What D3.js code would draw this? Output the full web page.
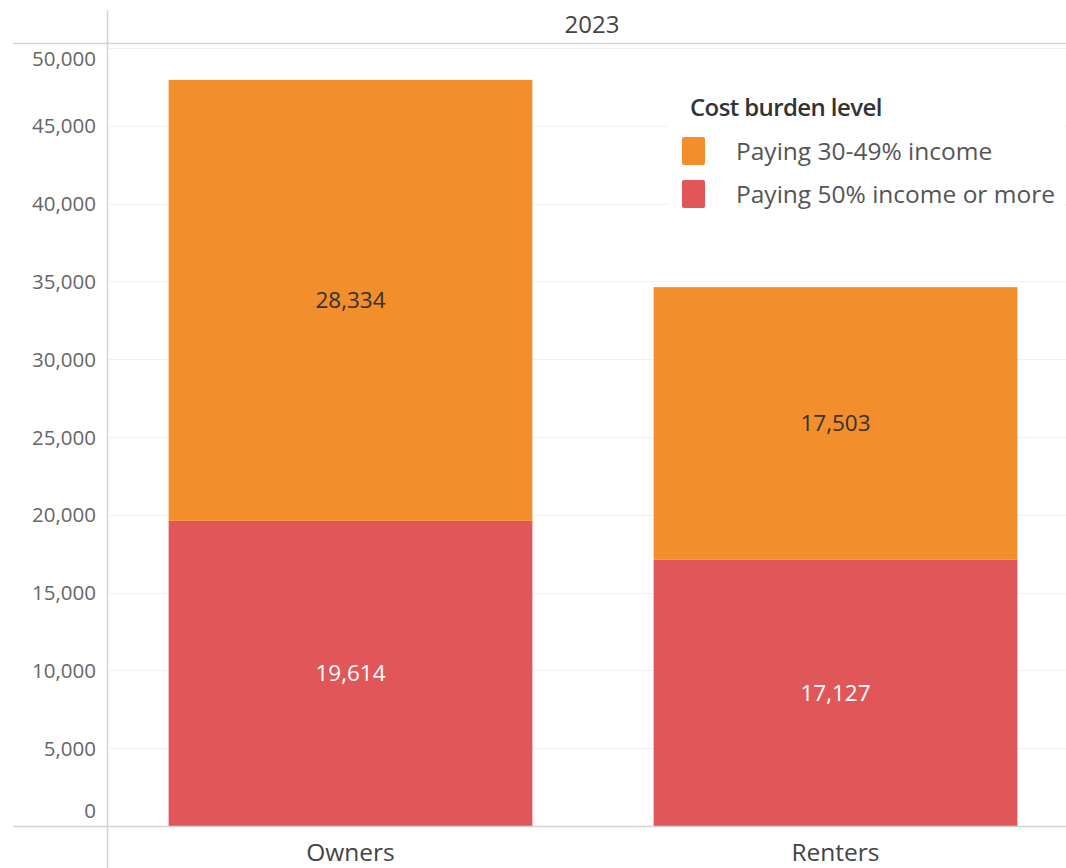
<!DOCTYPE html>
<html><head><meta charset="utf-8">
<script src="https://cdn.jsdelivr.net/npm/d3@7"></script>
<style>body{margin:0;background:#fff;}svg{display:block;font-family:"Open Sans",Lato,sans-serif;}</style>
</head><body><svg id="c" width="1066" height="868"></svg>
<script>
const categories = ["Owners", "Renters"];
const seriesNames = ["Paying 50% income or more", "Paying 30-49% income"];
const paying50 = [19614, 17127];
const paying30 = [28334, 17503];
const yTicks = [0, 5000, 10000, 15000, 20000, 25000, 30000, 35000, 40000, 45000, 50000];
const columnHeader = "2023";
const legendTitle = "Cost burden level";

const colors = {"Paying 30-49% income": "#f28e2b", "Paying 50% income or more": "#e15759"};
const svg = d3.select("#c");
const W = 1066, H = 868;
const padLeft = 108, padTop = 44, baseY = 826;
const y = d3.scaleLinear().domain([0, 50000]).range([baseY, 48]);
const x = d3.scaleBand().domain(categories).range([108, 1078]).paddingInner(0.25).paddingOuter(0.125);

// gridlines
svg.append("g").selectAll("line").data(yTicks.filter(d => d > 0)).join("line")
  .attr("x1", padLeft).attr("x2", W).attr("y1", d => Math.round(y(d)) + 0.5).attr("y2", d => Math.round(y(d)) + 0.5)
  .attr("stroke", "#f0f0f0").attr("stroke-width", 1);

// y axis labels
const yFs = 20.5;
const yAxis = d3.axisLeft(y).tickValues(yTicks).tickFormat(d3.format(",")).tickSize(0).tickPadding(0);
const ga = svg.append("g").attr("transform", `translate(${padLeft - 12},0)`).call(yAxis);
ga.select(".domain").remove();
ga.selectAll("text").attr("font-size", yFs).attr("fill", "#666").attr("font-family", "'Open Sans',sans-serif")
  .attr("dy", d => d === 50000 ? (10 + 0.35 * yFs) + "px" : d === 0 ? (-16 + 0.35 * yFs) + "px" : "0.35em");

// stacked data
const rows = categories.map((c, i) => ({cat: c, "Paying 50% income or more": paying50[i], "Paying 30-49% income": paying30[i]}));
const stack = d3.stack().keys(seriesNames)(rows);
const gs = svg.append("g").selectAll("g").data(stack).join("g").attr("fill", d => colors[d.key]);
gs.selectAll("rect").data(d => d).join("rect")
  .attr("x", d => x(d.data.cat)).attr("width", x.bandwidth())
  .attr("y", d => y(d[1])).attr("height", d => y(d[0]) - y(d[1]));

// value labels
stack.forEach(s => {
  svg.append("g").selectAll("text").data(s).join("text")
    .attr("x", d => x(d.data.cat) + x.bandwidth() / 2)
    .attr("y", d => (y(d[0]) + y(d[1])) / 2)
    .attr("dy", "0.35em").attr("text-anchor", "middle").attr("font-size", 22.5)
    .attr("fill", s.key === "Paying 50% income or more" ? "#ffffff" : "#333333")
    .text(d => d3.format(",")(d[1] - d[0]));
});

// axes lines
svg.append("line").attr("x1", 13).attr("x2", W).attr("y1", padTop - 0.5).attr("y2", padTop - 0.5).attr("stroke", "#d4d4d4").attr("stroke-width", 1.5);
svg.append("line").attr("x1", 13).attr("x2", W).attr("y1", baseY + 0.5).attr("y2", baseY + 0.5).attr("stroke", "#d4d4d4").attr("stroke-width", 1.5);
svg.append("line").attr("x1", padLeft - 0.5).attr("x2", padLeft - 0.5).attr("y1", 10).attr("y2", H).attr("stroke", "#d4d4d4").attr("stroke-width", 1.5);

// header
svg.append("text").attr("x", 592).attr("y", 25).attr("dy", "0.35em").attr("text-anchor", "middle")
  .attr("font-size", 24).attr("fill", "#444").text(columnHeader);

// x axis labels
const xAxis = d3.axisBottom(x).tickSize(0).tickPadding(0);
const gx = svg.append("g").attr("transform", `translate(0,${baseY})`).call(xAxis);
gx.select(".domain").remove();
gx.selectAll("text").attr("font-size", 24.5).attr("fill", "#444").attr("font-family", "'Open Sans',sans-serif").attr("dy", "0").attr("y", 35);

// legend
const lg = svg.append("g");
lg.append("rect").attr("x", 668).attr("y", 88).attr("width", 395).attr("height", 128).attr("fill", "#fff");
lg.append("text").attr("x", 690).attr("y", 108).attr("dy", "0.35em").attr("font-size", 24).attr("font-weight", 600)
  .attr("fill", "#333").attr("font-family", "'Open Sans',sans-serif").attr("letter-spacing", "-0.6").text(legendTitle);
const legendKeys = ["Paying 30-49% income", "Paying 50% income or more"];
legendKeys.forEach((k, i) => {
  const yy = 151 + i * 43;
  lg.append("rect").attr("x", 682).attr("y", yy - 14).attr("width", 23).attr("height", 28).attr("rx", 2).attr("fill", colors[k]);
  lg.append("text").attr("x", 736).attr("y", yy).attr("dy", "0.35em").attr("font-size", 24.5).attr("fill", "#555").text(k);
});
</script></body></html>
